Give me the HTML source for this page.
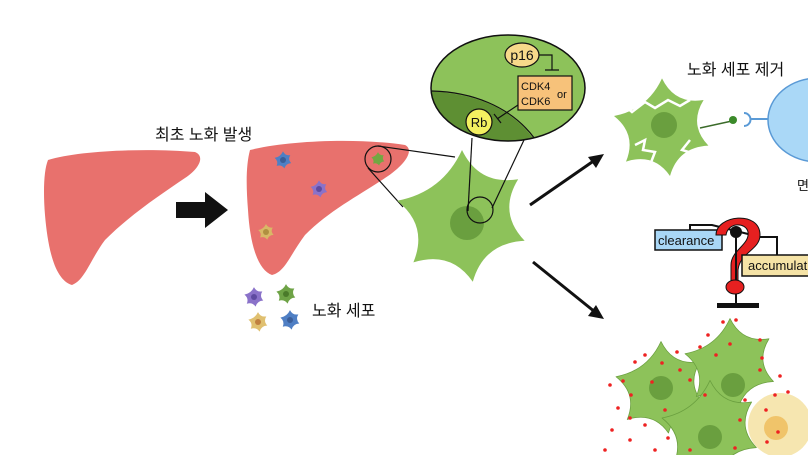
<!DOCTYPE html>
<html><head><meta charset="utf-8"><style>
html,body{margin:0;padding:0;background:#fff;width:808px;height:455px;overflow:hidden}
svg{display:block;overflow:hidden}
text{font-family:"Liberation Sans","Noto Sans CJK KR",sans-serif}
</style></head><body>
<svg width="808" height="455" viewBox="0 0 808 455">
<defs>
<path id="star" d="M0,-62 Q16,-29 52,-35 Q33,-4 58,22 Q20,24 10,60 Q-10,31 -45,42 Q-31,8 -60,-15 Q-18,-23 0,-62 Z" stroke-linejoin="round"/>
<clipPath id="ec"><ellipse cx="508" cy="88" rx="77" ry="53"/></clipPath>
<clipPath id="frame"><rect width="808" height="455"/></clipPath>
</defs>
<g clip-path="url(#frame)">
<path d="M48,160 C80,150 150,148 195,152 C205,156 200,168 185,178 C160,195 130,215 105,240 C90,260 85,280 72,285 C55,280 48,250 45,215 C43,190 44,170 48,160 Z" fill="#e8716d"/>
<text x="155" y="140" font-size="16" fill="#111">최초 노화 발생</text>
<path d="M176,202 H205 V192 L228,210 L205,228 V218 H176 Z" fill="#111"/>
<path d="M250,150 C290,140 360,138 405,145 C415,150 405,165 385,178 C360,195 330,210 305,235 C290,255 285,272 272,275 C258,270 250,245 248,210 C246,185 246,165 250,150 Z" fill="#e8716d"/>
<g><use href="#star" transform="translate(283,160) scale(0.14)" fill="#4f7fc4"/><circle cx="283" cy="160" r="3" fill="#3a5e99"/></g>
<g><use href="#star" transform="translate(319,189) scale(0.14)" fill="#8a72c9"/><circle cx="319" cy="189" r="3" fill="#5e4aa0"/></g>
<g><use href="#star" transform="translate(266,232) scale(0.13)" fill="#d9b866"/><circle cx="266" cy="232" r="3" fill="#b09040"/></g>
<use href="#star" transform="translate(378,159) scale(0.11)" fill="#72a842"/>
<circle cx="378" cy="159" r="13" fill="none" stroke="#111" stroke-width="1.2"/>
<line x1="378" y1="146" x2="455" y2="157" stroke="#111" stroke-width="1.2"/>
<line x1="368" y1="168" x2="403" y2="207" stroke="#111" stroke-width="1.2"/>
<g>
<use href="#star" transform="translate(254,297) scale(0.16)" fill="#8a72c9"/><circle cx="254" cy="297" r="3" fill="#5e4aa0"/>
<use href="#star" transform="translate(286,294) scale(0.16)" fill="#6ea346"/><circle cx="286" cy="294" r="3" fill="#4a7a2a"/>
<use href="#star" transform="translate(258,322) scale(0.16)" fill="#e0c070"/><circle cx="258" cy="322" r="3" fill="#c08040"/>
<use href="#star" transform="translate(290,320) scale(0.16)" fill="#4f7fc4"/><circle cx="290" cy="320" r="3" fill="#3a5e99"/>
</g>
<text x="312" y="316" font-size="16" fill="#111">노화 세포</text>
<g>
<use href="#star" transform="translate(462,217) scale(1.08)" fill="#8dc25a"/>
<circle cx="467" cy="223" r="17" fill="#6a9f3f"/>
</g>
<circle cx="480" cy="210" r="13" fill="none" stroke="#111" stroke-width="1.2"/>
<line x1="468" y1="211" x2="472" y2="138" stroke="#111" stroke-width="1.2"/>
<line x1="492" y1="208" x2="524" y2="140" stroke="#111" stroke-width="1.2"/>
<g>
<ellipse cx="508" cy="88" rx="77" ry="53" fill="#8dc25a"/>
<path d="M420,91 C470,92 510,105 535,141 L420,150 Z" fill="#5e8f33" clip-path="url(#ec)"/>
<path d="M432,91 C470,92 510,105 535,139" fill="none" stroke="#111" stroke-width="1.2" clip-path="url(#ec)"/>
<ellipse cx="508" cy="88" rx="77" ry="53" fill="none" stroke="#111" stroke-width="1.5"/>
<path d="M539,55 H552 V70 M545,70 H559" fill="none" stroke="#111" stroke-width="1.2"/>
<ellipse cx="522" cy="55" rx="17" ry="12" fill="#f7d98a" stroke="#111" stroke-width="1.2"/>
<text x="522" y="60" font-size="14" text-anchor="middle" fill="#111">p16</text>
<rect x="518" y="76" width="54" height="34" fill="#f7c27a" stroke="#111" stroke-width="1.2"/>
<text x="521" y="90" font-size="11" fill="#111">CDK4</text><text x="521" y="105" font-size="11" fill="#111">CDK6</text>
<text x="557" y="98" font-size="11" fill="#111">or</text>
<path d="M518,105 L497,119 M494,114 L501,123" fill="none" stroke="#111" stroke-width="1.2"/>
<circle cx="479" cy="122" r="13" fill="#f3f060" stroke="#111" stroke-width="1.2"/>
<text x="479" y="127" font-size="13" text-anchor="middle" fill="#111">Rb</text>
</g>
<g><line x1="530" y1="205" x2="595" y2="160" stroke="#111" stroke-width="3"/><path d="M604,154 L588,157 L596,168 Z" fill="#111"/></g>
<g><line x1="533" y1="262" x2="595" y2="312" stroke="#111" stroke-width="3"/><path d="M604,319 L588,316 L596,305 Z" fill="#111"/></g>
<text x="687" y="75" font-size="16" fill="#111">노화 세포 제거</text>
<g>
<use href="#star" transform="translate(662,128) scale(0.8)" fill="#8dc25a"/>
<circle cx="664" cy="125" r="13" fill="#6a9f3f"/>
<path d="M612,112 L625,106 L632,112 L645,102 L655,108 L668,100 L680,106 L690,100" fill="none" stroke="#fff" stroke-width="2.5"/>
<path d="M635,145 L645,140 L643,150 L655,152 L650,165" fill="none" stroke="#fff" stroke-width="2.5"/>
<path d="M690,140 L682,150 L692,153 L682,165 L690,170 L683,178" fill="none" stroke="#fff" stroke-width="2.5"/>
<line x1="700" y1="128" x2="732" y2="121" stroke="#3b6b2a" stroke-width="1.5"/>
<circle cx="733" cy="120" r="4" fill="#3b8a2a"/>
</g>
<path d="M744,113 A6,6 0 0 1 744,126 M750,119 H770" fill="none" stroke="#5a9ad6" stroke-width="2"/>
<ellipse cx="818" cy="120" rx="50" ry="42" fill="#aad8f7" stroke="#5a9ad6" stroke-width="1.5"/>
<text x="797" y="190" font-size="13" fill="#111">면</text>
<g>
<path d="M690,237 V225 H712 L740,232 L760,237 H777 V255" fill="none" stroke="#111" stroke-width="2"/>
<rect x="655" y="230" width="67" height="20" fill="#a9d7f6" stroke="#111" stroke-width="1.5"/>
<text x="658" y="245" font-size="13" fill="#111">clearance</text>
<path d="M716,235 C716,215 760,210 760,235 C760,250 740,252 738,270 L738,283 L731,283 L731,265 C731,250 750,245 748,232 C746,222 728,222 726,235 Z" fill="#e62020" stroke="#111" stroke-width="1"/>
<line x1="736" y1="232" x2="736" y2="303" stroke="#111" stroke-width="2"/>
<circle cx="736" cy="232" r="6" fill="#111"/>
<ellipse cx="735" cy="287" rx="9" ry="7" fill="#e62020" stroke="#111" stroke-width="1"/>
<rect x="717" y="303" width="42" height="5" fill="#111"/>
<rect x="742" y="255" width="70" height="21" fill="#f5e3a6" stroke="#111" stroke-width="1.5"/>
<text x="748" y="270" font-size="13" fill="#111">accumulation</text>
</g>
<g>
<use href="#star" transform="translate(661,388) scale(0.75)" fill="#8dc25a" stroke="#6a9f3f"/>
<circle cx="661" cy="388" r="12" fill="#6a9f3f"/>
<use href="#star" transform="translate(730,365) scale(0.75)" fill="#8dc25a" stroke="#6a9f3f"/>
<circle cx="733" cy="385" r="12" fill="#6a9f3f"/>
<circle cx="780" cy="425" r="32" fill="#f6e6b0"/>
<circle cx="776" cy="428" r="12" fill="#f0c46a"/>
<use href="#star" transform="translate(710,430) scale(0.8)" fill="#8dc25a" stroke="#6a9f3f"/>
<circle cx="710" cy="437" r="12" fill="#6a9f3f"/>
<g fill="#ee2222">
<circle cx="623" cy="381" r="1.8"/><circle cx="635" cy="362" r="1.8"/><circle cx="645" cy="355" r="1.8"/><circle cx="652" cy="382" r="1.8"/><circle cx="631" cy="395" r="1.8"/><circle cx="610" cy="385" r="1.8"/><circle cx="618" cy="408" r="1.8"/><circle cx="630" cy="418" r="1.8"/><circle cx="612" cy="430" r="1.8"/><circle cx="630" cy="440" r="1.8"/><circle cx="662" cy="363" r="1.8"/><circle cx="680" cy="370" r="1.8"/><circle cx="677" cy="352" r="1.8"/><circle cx="700" cy="347" r="1.8"/><circle cx="708" cy="335" r="1.8"/><circle cx="723" cy="322" r="1.8"/><circle cx="736" cy="320" r="1.8"/><circle cx="730" cy="344" r="1.8"/><circle cx="716" cy="355" r="1.8"/><circle cx="760" cy="340" r="1.8"/><circle cx="762" cy="358" r="1.8"/><circle cx="760" cy="370" r="1.8"/><circle cx="780" cy="376" r="1.8"/><circle cx="775" cy="395" r="1.8"/><circle cx="788" cy="392" r="1.8"/><circle cx="745" cy="400" r="1.8"/><circle cx="740" cy="420" r="1.8"/><circle cx="766" cy="410" r="1.8"/><circle cx="778" cy="432" r="1.8"/><circle cx="767" cy="442" r="1.8"/><circle cx="705" cy="395" r="1.8"/><circle cx="690" cy="380" r="1.8"/><circle cx="665" cy="410" r="1.8"/><circle cx="645" cy="425" r="1.8"/><circle cx="668" cy="438" r="1.8"/><circle cx="690" cy="450" r="1.8"/><circle cx="735" cy="448" r="1.8"/><circle cx="655" cy="450" r="1.8"/><circle cx="605" cy="450" r="1.8"/>
</g>
</g>
</g>
</svg>
</body></html>
